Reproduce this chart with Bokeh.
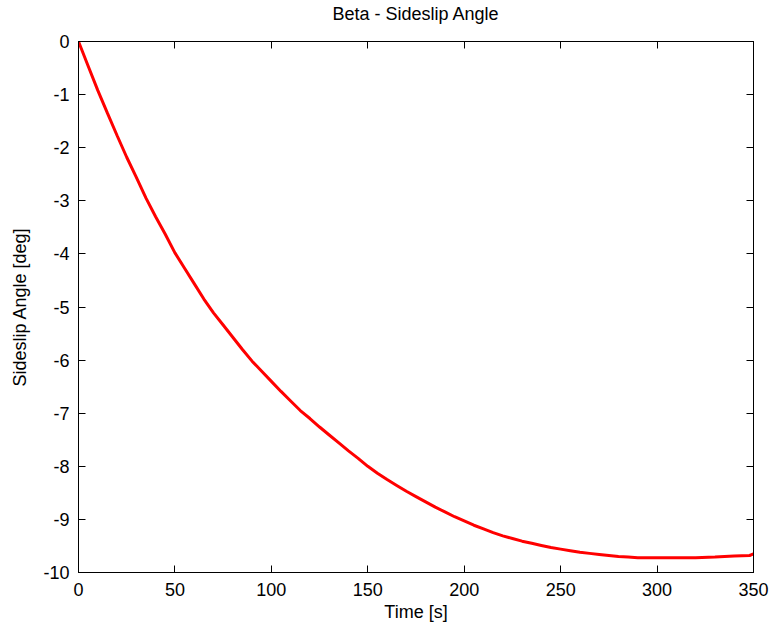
from bokeh.plotting import figure
from bokeh.models import Range1d, LinearAxis, SingleIntervalTicker, PrintfTickFormatter
from bokeh.embed import file_html
from bokeh.resources import INLINE

time_s = [0, 5, 10, 15, 20, 25, 30, 35, 40, 45, 50, 55, 60, 65, 70, 75, 80, 85, 90, 95,
          100, 105, 110, 115, 120, 125, 130, 135, 140, 145, 150, 155, 160, 165, 170, 175,
          180, 185, 190, 195, 200, 205, 210, 215, 220, 225, 230, 235, 240, 245, 250, 255,
          260, 265, 270, 275, 280, 285, 290, 300, 310, 320, 330, 340, 348, 350]
beta_deg = [0.0, -0.46, -0.92, -1.35, -1.77, -2.18, -2.56, -2.95, -3.30, -3.63, -3.98,
            -4.27, -4.56, -4.85, -5.11, -5.34, -5.57, -5.80, -6.02, -6.21,
            -6.40, -6.59, -6.77, -6.95, -7.10, -7.26, -7.41, -7.56, -7.71, -7.85,
            -8.00, -8.13, -8.25, -8.36, -8.47, -8.57, -8.67, -8.77, -8.86, -8.95,
            -9.03, -9.11, -9.18, -9.25, -9.31, -9.36, -9.41, -9.45, -9.49, -9.53,
            -9.56, -9.59, -9.62, -9.64, -9.66, -9.68, -9.70, -9.71, -9.72, -9.72,
            -9.72, -9.72, -9.71, -9.69, -9.68, -9.65]

TITLE = "Beta - Sideslip Angle"
FONT = "Liberation Sans"
FS = "18px"

p = figure(width=772, height=633, output_backend="svg", toolbar_location=None,
           x_range=Range1d(0, 350), y_range=Range1d(-10, 0),
           min_border_left=78, min_border_right=19, min_border_top=41, min_border_bottom=61)

p.xgrid.visible = False
p.ygrid.visible = False
p.outline_line_color = "black"
p.outline_line_width = 1
p.background_fill_color = "white"
p.border_fill_color = "white"

p.line(time_s, beta_deg, line_color="#FF0000", line_width=3)

def style(ax, labels=True):
    ax.axis_line_color = "black"
    ax.axis_line_width = 1
    ax.major_tick_in = 7
    ax.major_tick_out = 0
    ax.major_tick_line_color = "black"
    ax.minor_tick_line_color = None
    ax.major_label_text_font = FONT
    ax.formatter = PrintfTickFormatter(format="%d")
    if labels:
        ax.major_label_text_font_size = FS
        ax.major_label_text_color = "black"
    else:
        ax.major_label_text_font_size = "1px"
        ax.major_label_text_color = None
        ax.major_label_text_alpha = 0
    ax.axis_label_text_font = FONT
    ax.axis_label_text_font_size = FS
    ax.axis_label_text_font_style = "normal"
    ax.axis_label_text_color = "black"

xa = p.xaxis[0]
xa.ticker = SingleIntervalTicker(interval=50)
xa.axis_label = "Time [s]"
style(xa)
xa.major_label_standoff = 6
xa.axis_label_standoff = 3

ya = p.yaxis[0]
ya.ticker = SingleIntervalTicker(interval=1)
ya.axis_label = "Sideslip Angle [deg]"
style(ya)
ya.major_label_standoff = 5
ya.axis_label_standoff = 10

top = LinearAxis(ticker=SingleIntervalTicker(interval=50), axis_label=TITLE)
style(top, labels=False)
top.major_label_standoff = 0
top.axis_label_standoff = 14
p.add_layout(top, "above")

right = LinearAxis(ticker=SingleIntervalTicker(interval=1))
style(right, labels=False)
right.major_label_standoff = 0
p.add_layout(right, "right")

open("out.html", "w").write(file_html(p, INLINE))
